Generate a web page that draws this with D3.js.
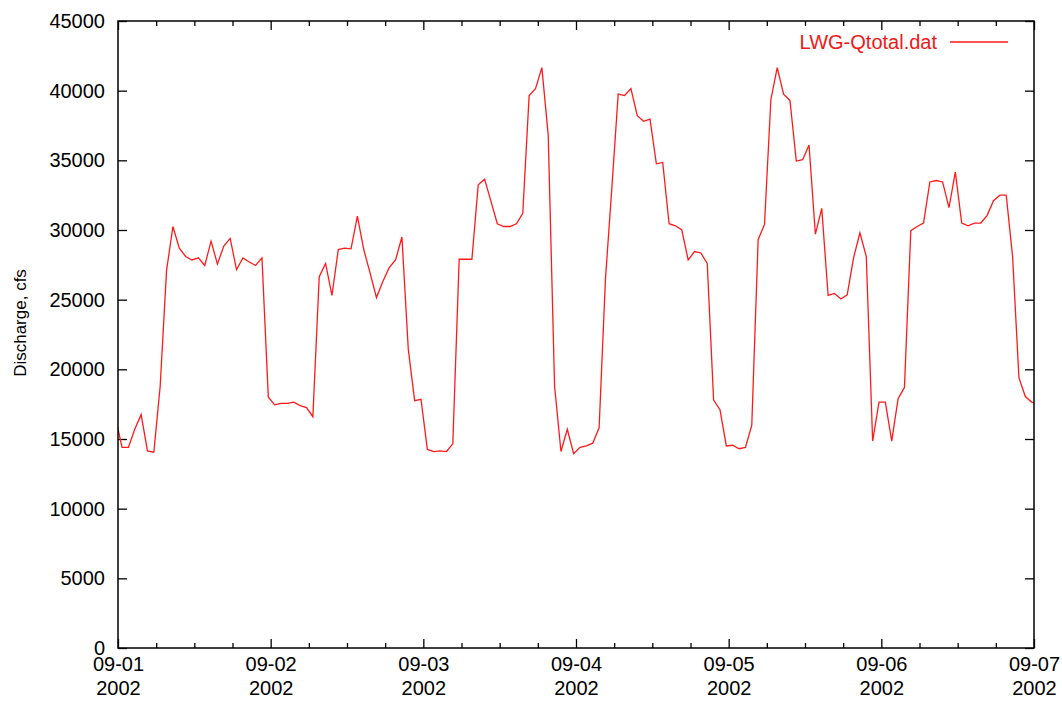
<!DOCTYPE html>
<html>
<head>
<meta charset="utf-8">
<script src="https://cdn.jsdelivr.net/npm/d3@7"></script>
<style>
  body { margin: 0; background: #fff; }
  svg { display: block; }
  text { font-family: "Liberation Sans", Arial, Helvetica, sans-serif; }
</style>
</head>
<body>
<svg id="chart" width="1062" height="701"></svg>
<script>
// Hourly total discharge (cfs), LWG-Qtotal.dat
const seriesName = "LWG-Qtotal.dat";
const yLabel = "Discharge, cfs";
const firstSample = "2002-08-31T23:38:00Z";
const discharge = [
  16500,
  14400, 14400, 15700, 16750, 14150, 14050, 18800, 27100, 30250, 28700, 28100, 27850,
  28000, 27450, 29200, 27550, 28850, 29400, 27150, 28000, 27700, 27450, 28000, 18000,
  17450, 17550, 17550, 17650, 17400, 17250, 16600, 26650, 27600, 25300, 28600, 28700,
  28650, 31000, 28600, 26900, 25150, 26300, 27300, 27850, 29500, 21450, 17750, 17850,
  14250, 14100, 14150, 14100, 14650, 27900, 27900, 27900, 33250, 33650, 32050, 30450,
  30250, 30250, 30450, 31200, 39650, 40150, 41650, 36800, 18800, 14100, 15700, 13950,
  14400, 14500, 14700, 15800, 26500, 33000, 39750, 39650, 40150, 38200, 37800, 37950,
  34750, 34850, 30450, 30300, 30000, 27850, 28450, 28350, 27600, 17800, 17100, 14500,
  14550, 14300, 14400, 16000, 29300, 30400, 39350, 41650, 39750, 39300, 34950, 35050,
  36100, 29700, 31550, 25300, 25450, 25050, 25350, 28000, 29800, 28100, 14850, 17650,
  17650, 14850, 17900, 18700, 29950, 30250, 30500, 33450, 33550, 33450, 31600, 34150,
  30500, 30300, 30500, 30500, 31050, 32100, 32500, 32500, 28100, 19400, 18050, 17650,
  17500
];
const yTicks = [0, 5000, 10000, 15000, 20000, 25000, 30000, 35000, 40000, 45000];
const dayTicks = ["2002-09-01", "2002-09-02", "2002-09-03", "2002-09-04",
                  "2002-09-05", "2002-09-06", "2002-09-07"];

const W = 1062, H = 701;
const margin = { left: 118, right: 28, top: 21, bottom: 53 };
const iw = W - margin.left - margin.right;
const ih = H - margin.top - margin.bottom;

const svg = d3.select("#chart");
const g = svg.append("g").attr("transform", `translate(${margin.left},${margin.top})`);

const t0 = new Date(firstSample);
const points = discharge.map((v, i) => ({ t: d3.utcHour.offset(t0, i), v }));
const days = dayTicks.map(s => new Date(s + "T00:00:00Z"));

const x = d3.scaleUtc().domain([days[0], days[days.length - 1]]).range([0, iw]);
const y = d3.scaleLinear().domain([0, 45000]).range([ih, 0]);

const minor = d3.utcHour.every(6).range(days[0], days[days.length - 1])
  .filter(d => d.getUTCHours() !== 0);

function clean(sel) { sel.select(".domain").remove(); }

// minor ticks (every 6 h), bottom and top, pointing inward
g.append("g").attr("transform", `translate(0,${ih})`)
  .call(d3.axisBottom(x).tickValues(minor).tickSizeInner(-5).tickSizeOuter(0).tickFormat(""))
  .call(clean);
g.append("g")
  .call(d3.axisTop(x).tickValues(minor).tickSizeInner(-5).tickSizeOuter(0).tickFormat(""))
  .call(clean);

// major day ticks with two-line labels
const xAxis = g.append("g").attr("transform", `translate(0,${ih})`)
  .call(d3.axisBottom(x).tickValues(days).tickSizeInner(-9).tickSizeOuter(0).tickPadding(9)
    .tickFormat(d3.utcFormat("%m-%d")))
  .call(clean);
xAxis.selectAll(".tick text").each(function(d) {
  const t = d3.select(this);
  t.text(null);
  t.append("tspan").attr("x", 0).text(d3.utcFormat("%m-%d")(d));
  t.append("tspan").attr("x", 0).attr("dy", 24).text(d3.utcFormat("%Y")(d));
});
g.append("g")
  .call(d3.axisTop(x).tickValues(days).tickSizeInner(-9).tickSizeOuter(0).tickFormat(""))
  .call(clean);

// y axis, left labelled, right mirrored
g.append("g")
  .call(d3.axisLeft(y).tickValues(yTicks).tickSizeInner(-9).tickSizeOuter(0).tickPadding(13)
    .tickFormat(d3.format("d")))
  .call(clean);
g.append("g").attr("transform", `translate(${iw},0)`)
  .call(d3.axisRight(y).tickValues(yTicks).tickSizeInner(-9).tickSizeOuter(0).tickFormat(""))
  .call(clean);

g.selectAll(".tick line").attr("stroke", "#000").attr("stroke-width", 1.3);
g.selectAll(".tick text").attr("fill", "#000").style("font-size", "20px")
  .style("font-family", '"Liberation Sans", Arial, sans-serif');

// clip region and series line
svg.append("defs").append("clipPath").attr("id", "plot-clip")
  .append("rect").attr("width", iw).attr("height", ih);

const line = d3.line().x(d => x(d.t)).y(d => y(d.v));
g.append("path")
  .datum(points)
  .attr("clip-path", "url(#plot-clip)")
  .attr("fill", "none")
  .attr("stroke", "#ff1a1a")
  .attr("stroke-width", 1.3)
  .attr("stroke-linejoin", "miter")
  .attr("d", line);

// frame
g.append("rect").attr("width", iw).attr("height", ih)
  .attr("fill", "none").attr("stroke", "#000").attr("stroke-width", 1.5);

// legend
const legend = g.append("g").attr("transform", `translate(${iw - 84},${21})`);
legend.append("text").attr("x", -13).attr("y", 0).attr("dy", "0.35em")
  .attr("text-anchor", "end").attr("fill", "#f01818").style("font-size", "20px")
  .text(seriesName);
legend.append("line").attr("x1", 0).attr("x2", 58).attr("y1", 0).attr("y2", 0)
  .attr("stroke", "#ff1a1a").attr("stroke-width", 1.3);

// y axis title
svg.append("text")
  .attr("transform", `translate(20,${323}) rotate(-90)`)
  .attr("text-anchor", "middle").attr("dy", "0.35em")
  .attr("fill", "#000").style("font-size", "17px")
  .text(yLabel);
</script>
</body>
</html>
